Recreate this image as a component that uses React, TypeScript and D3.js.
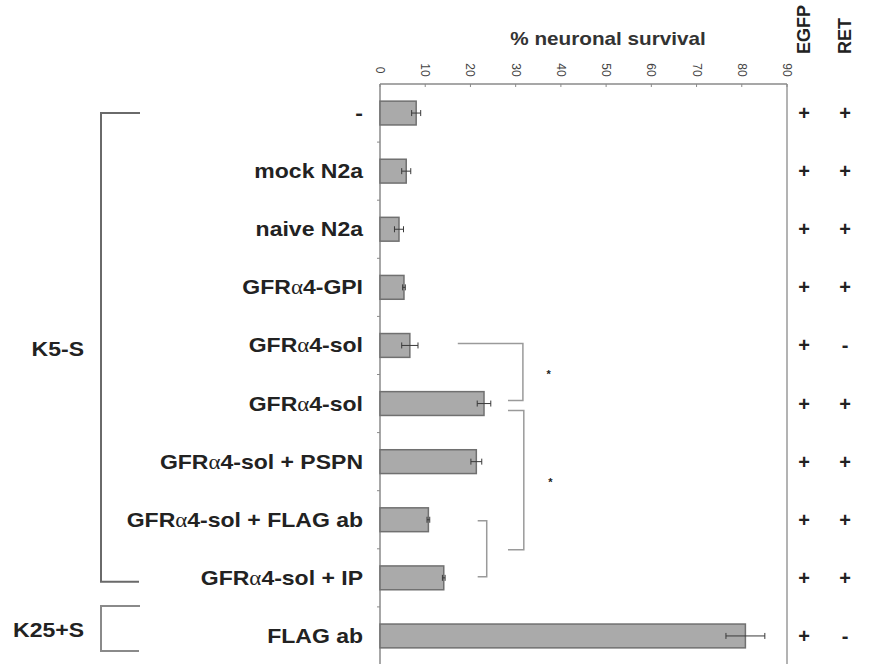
import React, { useEffect, useRef } from "react";
import * as d3 from "d3";

// conditions, top to bottom
const conditions = [
  "-",
  "mock N2a",
  "naive N2a",
  "GFRα4-GPI",
  "GFRα4-sol",
  "GFRα4-sol",
  "GFRα4-sol + PSPN",
  "GFRα4-sol + FLAG ab",
  "GFRα4-sol + IP",
  "FLAG ab",
];
const survival = [8, 5.8, 4.2, 5.3, 6.6, 23, 21.3, 10.7, 14.1, 80.8];
const errors = [1.0, 1.0, 1.0, 0.3, 1.8, 1.5, 1.2, 0.3, 0.3, 4.3];
const egfp = ["+", "+", "+", "+", "+", "+", "+", "+", "+", "+"];
const ret = ["+", "+", "+", "+", "-", "+", "+", "+", "+", "-"];
const xTicks = [0, 10, 20, 30, 40, 50, 60, 70, 80, 90];

// groups on the left: label, first row, last row
const groups = [
  { name: "K5-S", from: 0, to: 8 },
  { name: "K25+S", from: 9, to: 9 },
];

// significance brackets (rows + x extent in % units)
const brackets = [
  { top: 4, topOff: -2, bottom: 5, bottomOff: -3, xTop: 17.2, xBottom: 28.3, xV: 31.6, star: 37.3 },
  { top: 5, topOff: 7, bottom: 7, bottomOff: 30, xTop: 28.3, xBottom: 28.3, xV: 31.8, star: 37.7 },
  { top: 7, topOff: 1, bottom: 8, bottomOff: -1, xTop: 21.6, xBottom: 21.6, xV: 23.6, star: null },
];

const FONT = "'Liberation Sans', Arial, sans-serif";

const App = () => {
  const svgRef = useRef<SVGSVGElement>(null);

  useEffect(() => {
    const svg = d3.select(svgRef.current);
    svg.selectAll("*").remove();

    const x = d3.scaleLinear().domain([0, 90]).range([380, 787]);
    const y = d3
      .scaleBand<number>()
      .domain(d3.range(conditions.length))
      .range([84, 665])
      .paddingInner(0.59)
      .paddingOuter(0.295);
    const mid = (i: number) => (y(i) as number) + y.bandwidth() / 2;
    const step = y.step();

    // frame
    svg.append("line").attr("x1", x(90)).attr("x2", x(90)).attr("y1", 84).attr("y2", 664)
      .attr("stroke", "#9a9a9a").attr("stroke-width", 1.5);

    // top axis
    const top = svg.append("g").attr("transform", "translate(0,84)");
    top.append("line").attr("x1", x(0)).attr("x2", x(90)).attr("stroke", "#8a8a8a").attr("stroke-width", 1.5);
    top.selectAll("line.tick").data(xTicks).join("line").attr("class", "tick")
      .attr("x1", (d) => x(d)).attr("x2", (d) => x(d)).attr("y1", 0).attr("y2", 3)
      .attr("stroke", "#8a8a8a");
    svg.append("g").selectAll("text").data(xTicks).join("text")
      .attr("transform", (d) => `translate(${x(d) - 4},70) rotate(90)`)
      .attr("text-anchor", "middle")
      .attr("font-family", FONT).attr("font-size", 12).attr("fill", "#444")
      .text((d) => d);

    svg.append("text")
      .attr("transform", "translate(608,45) scale(1.15,1)")
      .attr("text-anchor", "middle")
      .attr("font-family", FONT).attr("font-weight", "bold").attr("font-size", 18).attr("fill", "#333")
      .text("% neuronal survival");

    // left axis
    svg.append("line").attr("x1", x(0)).attr("x2", x(0)).attr("y1", 84).attr("y2", 664)
      .attr("stroke", "#8a8a8a").attr("stroke-width", 1.5);
    svg.append("g").selectAll("line").data(d3.range(1, conditions.length + 1)).join("line")
      .attr("x1", x(0) - 3).attr("x2", x(0)).attr("y1", (d) => 84 + d * step).attr("y2", (d) => 84 + d * step)
      .attr("stroke", "#8a8a8a");

    // bars
    svg.append("g").selectAll("rect").data(survival).join("rect")
      .attr("x", x(0)).attr("y", (_, i) => y(i) as number)
      .attr("width", (d) => x(d) - x(0)).attr("height", y.bandwidth())
      .attr("fill", "#aaaaaa").attr("stroke", "#707070").attr("stroke-width", 1.5);

    // error bars
    const err = svg.append("g").attr("stroke", "#3a3a3a").attr("stroke-width", 1);
    survival.forEach((v, i) => {
      const cy = mid(i);
      err.append("line").attr("x1", x(v - errors[i])).attr("x2", x(v + errors[i])).attr("y1", cy).attr("y2", cy);
      [v - errors[i], v + errors[i]].forEach((e) =>
        err.append("line").attr("x1", x(e)).attr("x2", x(e)).attr("y1", cy - 3).attr("y2", cy + 3)
      );
    });

    // row labels
    const lab = svg.append("g").attr("font-family", FONT).attr("font-weight", "bold")
      .attr("font-size", 20).attr("fill", "#222").attr("text-anchor", "end");
    conditions.forEach((c, i) => {
      const t = lab.append("text").attr("transform", `translate(363,${mid(i) + 7}) scale(1.15,1)`);
      const parts = c.split("α");
      t.append("tspan").text(parts[0]);
      if (parts.length > 1) {
        t.append("tspan").attr("font-family", "'Liberation Serif', serif").attr("font-weight", "normal").text("α");
        t.append("tspan").text(parts[1]);
      }
    });

    // group brackets
    groups.forEach((g) => {
      const y0 = g.from === g.to ? mid(g.from) - 30 : mid(g.from);
      const y1 = g.from === g.to ? mid(g.to) + 15 : mid(g.to) + 4;
      svg.append("path")
        .attr("d", `M140,${y0}H101V${y1}H139`)
        .attr("fill", "none").attr("stroke", g.from === g.to ? "#8a8a8a" : "#6a6a6a").attr("stroke-width", 2);
      lab.append("text").attr("transform", `translate(84,${(y0 + y1) / 2 + 9}) scale(1.15,1)`).text(g.name);
    });

    // significance brackets
    brackets.forEach((b) => {
      const y0 = mid(b.top) + b.topOff;
      const y1 = mid(b.bottom) + b.bottomOff;
      svg.append("path")
        .attr("d", `M${x(b.xTop)},${y0}H${x(b.xV)}V${y1}H${x(b.xBottom)}`)
        .attr("fill", "none").attr("stroke", "#9a9a9a").attr("stroke-width", 1.5);
      if (b.star !== null) {
        svg.append("text").attr("x", x(b.star)).attr("y", (y0 + y1) / 2 + 6)
          .attr("text-anchor", "middle").attr("font-family", FONT).attr("font-size", 11)
          .attr("font-weight", "bold").attr("fill", "#222").text("*");
      }
    });

    // right-hand columns
    const cols = [
      { name: "EGFP", x: 804, vals: egfp },
      { name: "RET", x: 845, vals: ret },
    ];
    cols.forEach((c) => {
      svg.append("text")
        .attr("transform", `translate(${c.x + 6},54) rotate(-90)`)
        .attr("font-family", FONT).attr("font-weight", "bold").attr("font-size", 18).attr("fill", "#222")
        .text(c.name);
      svg.append("g").selectAll("text").data(c.vals).join("text")
        .attr("x", c.x).attr("y", (_, i) => mid(i) + 7)
        .attr("text-anchor", "middle")
        .attr("font-family", FONT).attr("font-weight", "bold").attr("font-size", 20).attr("fill", "#222")
        .text((d) => d);
    });
  }, []);

  return (
    <svg
      ref={svgRef}
      width={873}
      height={664}
      style={{ position: "absolute", left: 0, top: 0, background: "#fff" }}
    />
  );
};

export default App;
